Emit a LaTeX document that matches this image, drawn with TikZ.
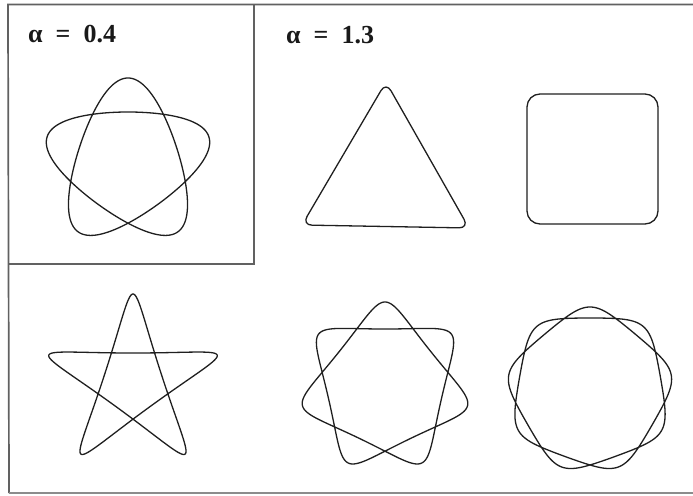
\documentclass[tikz,border=0pt]{standalone}
\usepackage{fontspec}
\setmainfont{Liberation Serif}
\newcommand\drawtroch[7]{%
  \draw[curve] plot[domain=0:360,samples=721,variable=\t]
    ({#1+#3*cos(#5*\t+#7)+#4*cos(-#6*\t+#7)},
     {#2+#3*sin(#5*\t+#7)+#4*sin(-#6*\t+#7)}) -- cycle;}
\tikzset{
  curve/.style={line width=1.3pt, black!88, line join=round},
  frame/.style={line width=1.7pt, black!62},
  lab/.style={font=\fontsize{26}{31}\selectfont\bfseries, anchor=base west, inner sep=0pt, black!90}
}
\begin{document}
\begin{tikzpicture}[x=1pt,y=-1pt]
\useasboundingbox (0,0) rectangle (693,495);
% frame
\coordinate (tl) at (8,4.5);
\coordinate (tr) at (693,4.5);
\coordinate (bl) at (9,493);
\coordinate (br) at (693,493);
\coordinate (it) at (254,4.5);
\coordinate (ib) at (254,264);
\coordinate (il) at (9,264);
\draw[frame] (tr) -- (tl) -- (bl);
\draw[frame, black!45] (bl) -- (br);
\draw[frame] (it) -- (ib) -- (il);
% labels
\node[lab] (la) at (28,43) {α\hspace{0.5em}=\hspace{0.5em}0.4};
\node[lab] (lb) at (286,44) {α\hspace{0.5em}=\hspace{0.5em}1.3};
% alpha = 0.4
\drawtroch{128}{163}{68}{17}{2}{3}{-90}
% rounded triangle
\coordinate (ta) at (386,82);
\coordinate (tb) at (302,225);
\coordinate (tc) at (469,228);
\draw[curve, rounded corners=10pt] (ta) -- (tc) -- (tb) -- cycle;
% rounded square
\coordinate (sa) at (527,94);
\coordinate (sb) at (658,224);
\draw[curve, rounded corners=13pt] (sa) rectangle (sb);
% lower row
\drawtroch{133}{382.5}{59}{29.5}{2}{3}{-90}
\drawtroch{385}{386.7}{71.2}{13.5}{2}{5}{-90}
\drawtroch{590}{389.5}{77}{5.5}{2}{7}{-90}
\end{tikzpicture}
\end{document}
